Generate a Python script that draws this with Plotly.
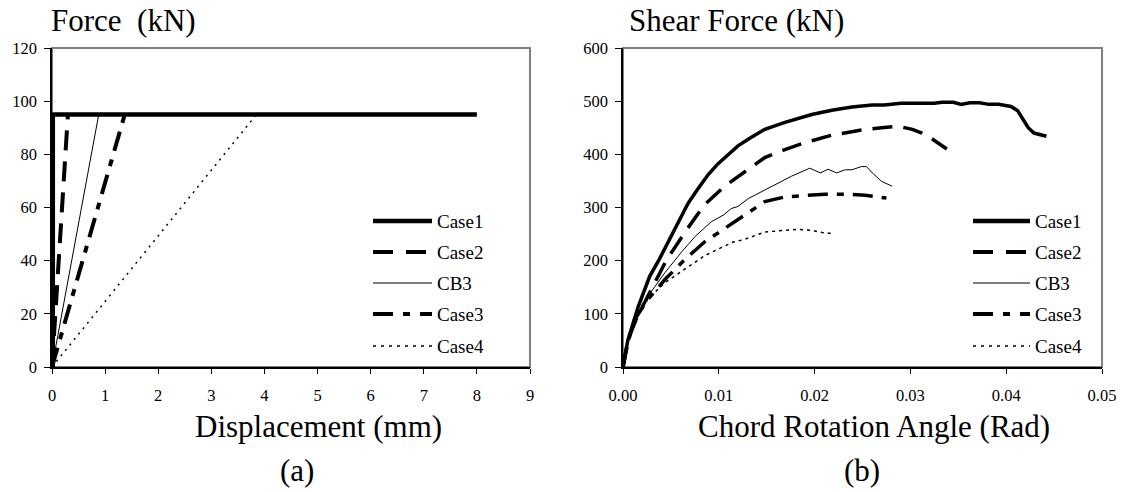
import plotly.graph_objects as go

# ---------------- data ----------------
series_names = ["Case1", "Case2", "CB3", "Case3", "Case4"]

# panel (a): Force (kN) vs Displacement (mm)
a_case1_x = [0.015, 0.015, 8.0]
a_case1_y = [0, 95, 95]
a_case2_x = [0, 0.30]
a_case2_y = [0, 95]
a_cb3_x = [0, 0.88]
a_cb3_y = [0, 95]
a_case3_x = [0, 1.37]
a_case3_y = [0, 95]
a_case4_x = [0, 3.85]
a_case4_y = [0, 95]

# panel (b): Shear Force (kN) vs Chord Rotation Angle (Rad)
b_case1_x = [0, 0.0005, 0.0016, 0.0028, 0.0038, 0.0048, 0.0058, 0.0068, 0.0079, 0.0089,
             0.0099, 0.0108, 0.0120, 0.0134, 0.0148, 0.0169, 0.0185, 0.0197, 0.0218, 0.0239,
             0.0260, 0.0273, 0.0290, 0.0305, 0.0325, 0.0333, 0.0345, 0.0353, 0.0362, 0.0372,
             0.0382, 0.0392, 0.0405, 0.0412, 0.0418, 0.0423, 0.0429, 0.0436, 0.0442]
b_case1_y = [0, 50, 114, 171, 203, 238, 270, 308, 337, 362,
             382, 397, 416, 432, 447, 460, 469, 475, 483, 489,
             493, 493, 496, 496, 496, 498, 498, 494, 497, 497,
             494, 494, 490, 482, 465, 450, 440, 436, 434]

b_case2_x = [0, 0.0005, 0.0015, 0.0026, 0.0045, 0.0066, 0.0085, 0.0106, 0.0127, 0.0148,
             0.0169, 0.0190, 0.0218, 0.0246, 0.0270, 0.0282, 0.0292, 0.0302, 0.0312, 0.0322,
             0.0330, 0.0338]
b_case2_y = [0, 50, 95, 133, 200, 257, 305, 340, 368, 394,
             409, 422, 436, 445, 450, 452, 451, 447, 440, 430,
             420, 410]

b_cb3_x = [0, 0.0005, 0.0009, 0.0026, 0.0044, 0.0061, 0.0075, 0.0092, 0.0105, 0.0113,
           0.0120, 0.0131, 0.0148, 0.0159, 0.0176, 0.0195, 0.0206, 0.0214, 0.0223, 0.0232,
           0.0239, 0.0249, 0.0254, 0.0262, 0.0270, 0.0281]
b_cb3_y = [0, 45, 76, 133, 178, 216, 245, 273, 286, 298,
           302, 317, 333, 343, 359, 374, 365, 372, 365, 371,
           371, 377, 377, 362, 349, 340]

b_case3_x = [0, 0.0005, 0.0012, 0.0026, 0.0044, 0.0065, 0.0085, 0.0106, 0.0127, 0.0148,
             0.0169, 0.0190, 0.0211, 0.0232, 0.0253, 0.0270, 0.0275]
b_case3_y = [0, 45, 89, 127, 165, 203, 235, 260, 286, 311,
             320, 322, 325, 325, 323, 319, 318]

b_case4_x = [0, 0.0005, 0.0012, 0.0026, 0.0044, 0.0065, 0.0085, 0.0103, 0.0115, 0.0127,
             0.0148, 0.0169, 0.0183, 0.0197, 0.0208, 0.0218]
b_case4_y = [0, 45, 85, 128, 159, 184, 209, 225, 235, 240,
             254, 257, 259, 257, 253, 251]

a_x_ticks = [0, 1, 2, 3, 4, 5, 6, 7, 8, 9]
a_y_ticks = [0, 20, 40, 60, 80, 100, 120]
b_x_ticks = [0.00, 0.01, 0.02, 0.03, 0.04, 0.05]
b_y_ticks = [0, 100, 200, 300, 400, 500, 600]

# ---------------- styles ----------------
FONT = "Liberation Serif"
W, H = 1125, 492
ML, MR, MT, MB = 52, 23, 48, 125
PW = W - ML - MR
PH = H - MT - MB


def px(x):
    return (x - ML) / PW


def py(y):
    return (H - MB - y) / PH


style_a = {
    "Case1": dict(width=4.5, dash="solid"),
    "Case2": dict(width=4, dash="20px,11px"),
    "CB3": dict(width=1, dash="solid"),
    "Case3": dict(width=4, dash="20px,9px,7px,9px"),
    "Case4": dict(width=1.5, dash="2px,5px"),
}
style_b = {
    "Case1": dict(width=3.5, dash="solid"),
    "Case2": dict(width=3.5, dash="20px,11px"),
    "CB3": dict(width=1, dash="solid"),
    "Case3": dict(width=3.5, dash="20px,9px,7px,9px"),
    "Case4": dict(width=1.5, dash="3px,4px"),
}
legend_style = {
    "Case1": dict(width=4.5, dash="solid"),
    "Case2": dict(width=4, dash="20px,13px"),
    "CB3": dict(width=1, dash="solid"),
    "Case3": dict(width=4, dash="20px,10px,7px,10px"),
    "Case4": dict(width=1.5, dash="3px,5px"),
}

a_data = [(a_case1_x, a_case1_y), (a_case2_x, a_case2_y), (a_cb3_x, a_cb3_y),
          (a_case3_x, a_case3_y), (a_case4_x, a_case4_y)]
b_data = [(b_case1_x, b_case1_y), (b_case2_x, b_case2_y), (b_cb3_x, b_cb3_y),
          (b_case3_x, b_case3_y), (b_case4_x, b_case4_y)]

fig = go.Figure()
for name, (x, y) in zip(series_names, a_data):
    fig.add_trace(go.Scatter(x=x, y=y, mode="lines", name=name, showlegend=False,
                             line=dict(color="black", **style_a[name]),
                             xaxis="x", yaxis="y"))
for name, (x, y) in zip(series_names, b_data):
    fig.add_trace(go.Scatter(x=x, y=y, mode="lines", name=name, showlegend=False,
                             line=dict(color="black", **style_b[name]),
                             xaxis="x2", yaxis="y2"))

tickfont = dict(family=FONT, size=16.5, color="black")
axis_common = dict(showgrid=False, zeroline=False, showline=True, linecolor="black",
                   linewidth=1.5, ticks="outside", tickcolor="black", tickwidth=1,
                   tickfont=tickfont, automargin=False, mirror=False, fixedrange=True)

fig.update_layout(
    template="none",
    font=dict(family=FONT, color="black"),
    width=W, height=H, autosize=False,
    margin=dict(l=ML, r=MR, t=MT, b=MB, pad=0),
    paper_bgcolor="white", plot_bgcolor="white",
    showlegend=False,
    xaxis=dict(domain=[0, px(530)], range=[0, 9], tickmode="array", tickvals=a_x_ticks,
               ticklen=5, ticklabelstandoff=7, anchor="y", **axis_common),
    yaxis=dict(domain=[0, 1], range=[0, 120], tickmode="array", tickvals=a_y_ticks,
               ticklen=6, ticklabelstandoff=4, anchor="x", **axis_common),
    xaxis2=dict(domain=[px(623), 1], range=[0, 0.05], tickmode="array", tickvals=b_x_ticks,
                tickformat=".2f", ticklen=5, ticklabelstandoff=7, anchor="y2", **axis_common),
    yaxis2=dict(domain=[0, 1], range=[0, 600], tickmode="array", tickvals=b_y_ticks,
                ticklen=6, ticklabelstandoff=4, anchor="x2", **axis_common),
)

# gray frame (top/right) under the black axes
shapes = []
for xr, yr in (("x domain", "y domain"), ("x2 domain", "y2 domain")):
    shapes.append(dict(type="rect", xref=xr, yref=yr, x0=0, x1=1, y0=0, y1=1,
                       line=dict(color="#808080", width=2), layer="below"))

annotations = []
# legends
legend_rows = [221, 252, 283, 314, 346]
for (lx0, lx1, tx) in ((373, 432, 435), (973, 1030, 1033)):
    for name, ry in zip(series_names, legend_rows):
        shapes.append(dict(type="line", xref="paper", yref="paper",
                           x0=px(lx0), x1=px(lx1), y0=py(ry), y1=py(ry),
                           line=dict(color="black", **legend_style[name])))
        annotations.append(dict(text=name, xref="paper", yref="paper", x=px(tx), y=py(ry),
                                xanchor="left", yanchor="middle", showarrow=False,
                                font=dict(family=FONT, size=19, color="black")))

big = dict(family=FONT, size=31, color="black")


def add_text(text, x, y, xanchor):
    annotations.append(dict(text=text, xref="paper", yref="paper", x=px(x), y=py(y),
                            xanchor=xanchor, yanchor="middle", showarrow=False, font=big))


add_text("Force\u00a0 (kN)", 49, 21, "left")
add_text("Shear Force (kN)", 627, 21, "left")
add_text("Displacement (mm)", 318, 426, "center")
add_text("(a)", 297, 470, "center")
add_text("Chord Rotation Angle (Rad)", 874, 426, "center")
add_text("(b)", 862, 470, "center")

fig.update_layout(shapes=shapes, annotations=annotations)
fig.write_html("out.html")
